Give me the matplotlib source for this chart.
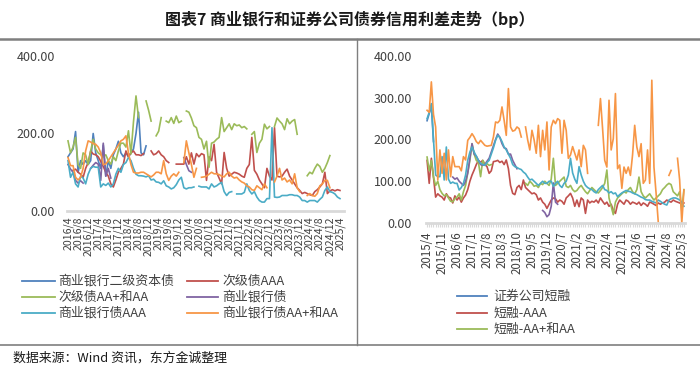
import numpy as np
import pandas as pd
import matplotlib
matplotlib.use("Agg")
import matplotlib.pyplot as plt
from matplotlib.lines import Line2D

plt.rcParams['font.family'] = ['Noto Sans CJK SC', 'DejaVu Sans']
nan = np.nan

# ---------------- data: left panel (monthly, 2016/4 - 2025/4) ----------------
left_months = pd.period_range('2016-04', '2025-04', freq='M')
left_names = ['商业银行二级资本债', '次级债AAA', '次级债AA+和AA', '商业银行债', '商业银行债AAA', '商业银行债AA+和AA']

L_tier2 = [140,150,160,205,100,130,120,130,120,130,200,150,
           130,110,170,90,130,110,145,160,180,150,140,150,
           140,150,160,200,255,150,145,168] + [nan]*77

L_sub_aaa = [nan,nan,105,108,100,95,87,110,125,155,147,145,
             140,128,115,100,90,70,62,80,100,110,121,155,
             140,150,155,145,145,143,148,nan,nan,155,145,148,
             155,145,140,130,125,nan,nan,121,121,121,121,140,
             121,150,121,148,140,148,145,79,140,130,172,100,
             85,70,151,110,90,95,100,98,95,90,87,110,
             120,190,105,95,80,70,60,110,90,80,215,90,
             88,90,100,108,90,80,70,60,53,45,48,45,
             42,40,50,55,62,70,100,45,52,55,52,55,53]

L_sub_aa = [181,150,165,190,120,110,150,145,120,155,185,160,
            150,145,140,145,130,121,140,130,155,175,175,165,
            207,147,230,297,241,nan,nan,284,260,232,nan,194,
            206,241,nan,232,228,241,226,245,228,232,nan,258,
            255,240,220,215,190,185,160,180,113,175,178,185,
            190,241,205,215,225,210,225,220,222,215,218,212,
            nan,198,205,151,175,185,224,212,218,nan,218,240,
            232,225,210,238,225,232,236,198,nan,nan,nan,91,
            100,96,110,121,115,100,110,125,143,nan,nan,nan,nan]

L_bank = ([120,108,100,79,72,78,72,nan,nan,110,118,125,
           121,79,175,90,110,85] + [nan]*28 + [138,120,104,100] + [nan]*59)

L_bank_aaa = [130,87,100,70,62,90,85,70,95,110,115,113,
              113,62,70,66,72,62,70,95,110,100,120,125,
              138,130,110,95,91,91,90,88,91,80,82,75,
              74,70,78,65,62,57,60,68,80,87,60,57,
              60,60,62,nan,64,62,62,62,57,70,62,65,
              70,74,50,40,48,50,nan,44,44,44,48,70,
              53,44,50,36,27,23,23,32,32,215,36,35,
              36,40,40,40,42,42,40,40,36,27,27,23,
              27,27,27,23,30,36,53,62,50,48,44,36,32]

L_bank_aa = [138,117,117,87,80,87,110,155,181,178,174,172,
             165,150,120,121,130,140,150,160,170,181,185,194,
             150,120,100,98,98,100,100,96,92,88,93,100,
             100,96,130,96,79,90,96,90,100,nan,125,181,
             150,120,87,110,nan,87,88,90,95,100,96,96,
             94,90,88,96,100,90,85,87,80,75,72,65,
             62,55,53,65,60,55,70,60,nan,nan,75,90,
             110,80,85,75,80,70,96,60,50,nan,nan,40,
             45,40,38,45,65,70,79,79,60,nan,nan,nan,nan]

# ---------------- data: right panel (monthly, 2015/4 - 2025/4) ----------------
right_months = pd.period_range('2015-04', '2025-04', freq='M')
right_names = ['证券公司短融', '短融-AAA', '短融-AA+和AA']

R_sec = [245,262,282,195] + [nan]*117

R_aaa = [150,95,155,110,62,70,65,62,55,70,62,60,
         48,65,55,62,50,60,67,80,100,115,127,140,
         150,145,150,140,135,119,125,147,148,150,145,148,
         140,151,130,90,71,68,85,90,80,103,85,80,
         75,70,72,68,55,60,50,45,35,45,55,60,
         58,50,55,52,45,60,65,71,60,40,55,39,
         60,55,23,55,48,52,50,55,48,60,52,45,
         50,40,45,30,23,45,55,50,45,55,52,45,
         50,48,45,50,42,48,45,40,50,48,45,42,
         48,45,48,50,55,52,50,55,52,50,48,45,48]

R_aa = ([158,125,150,110,90,100,80,71,65,68,60,52,
         51,58,62,70,55,75,90,120,150,190,165,150,
         145,111,150,140,142,138,140] + [nan]*15 +
        [95,90,100,95,88,90,85,95,92,100,95,90,105,155,90,95,100,105,110,
         88,85,90,80,75,78,85,90,82,75,70,78,85,80,75,72,78,85,95,127,
         60,40,20,50,60,65,70,75,72,80,85,75,70,80,110,75,65,60,65,70,
         62,55,60,65,70,80,85,91,95,92,75,70,65,75,30,80])

R_s4 = ([nan]*12 +
        [110,105,108,100,95,90,100,120,155,190,165,160,
         150,140,138,140,148,155,170,185,200,213,205,190,
         180,178,165,165,150,140,130] + [nan]*11 +
        [30,25,15,20,40,96,50,45] + [nan]*59)

R_s5 = [250,265,286,200,115,111,111,159,103,182,105,95,
        98,95,95,79,85,95,115,150,170,182,170,160,
        150,143,140,138,145,150,165,180,198,210,205,195,
        182,175,165,155,140,135,133,130,128,122,118,110,
        103,105,100,95,90,95,100,95,95,100,100,88,
        95,100,90,85,95,100,115,155,120,105,95,135,
        115,100,90,85,82,80,75,72,80,85,90,80,
        78,72,75,70,72,63,68,72,75,78,76,75,
        72,70,68,65,62,60,56,55,55,52,50,48,
        55,52,48,45,43,55,58,60,60,58,55,50,40]

R_s6 = [270,265,338,260,230,103,175,119,167,103,175,111,
        159,135,135,135,125,159,151,198,205,214,206,195,
        190,198,192,186,184,185,186,206,242,240,246,278,
        246,210,322,230,220,222,230,226,206,nan,230,199,
        175,222,199,167,234,159,222,175,242,127,230,246,
        238,250,246,167,246,222,155,163,183,167,151,175,
        135,186,175,119,nan,nan,nan,nan,234,298,226,150,
        134,294,175,202,310,130,139,83,134,119,134,114,
        163,234,182,159,190,95,103,175,95,342,134,71,
        3,nan,nan,nan,nan,114,126,nan,nan,155,103,0,79]

left_yticks = [0, 200, 400]
right_yticks = [0, 100, 200, 300, 400]

# ---------------- styling ----------------
C = {'blue': '#4F81BD', 'red': '#C0504D', 'green': '#9BBB59',
     'purple': '#8064A2', 'cyan': '#4BACC6', 'orange': '#F79646'}
TXT = '#404040'
AXC = '#D9D9D9'
W, H = 700, 370
fig = plt.figure(figsize=(7, 3.7), dpi=100)
def fx(x): return x / W
def fy(y): return 1 - y / H

# title and frame lines
fig.text(fx(350), fy(19), '图表7 商业银行和证券公司债券信用利差走势（bp）', ha='center', va='center',
         fontsize=11.5, fontweight='bold', color='#1a1a1a')
fig.add_artist(Line2D([0, 1], [fy(38.5), fy(38.5)], color='#7f7f7f', lw=1.8))
fig.add_artist(Line2D([fx(357), fx(357)], [fy(38.5), fy(345)], color='#7f7f7f', lw=1.0))
fig.add_artist(Line2D([0, 1], [fy(345), fy(345)], color='#7f7f7f', lw=1.2))
fig.text(fx(13), fy(358), '数据来源：Wind 资讯，东方金诚整理', ha='left', va='center', fontsize=9.3, color='#1a1a1a')

def style_axes(ax, yt, pad):
    for s in ['top', 'right', 'left']:
        ax.spines[s].set_visible(False)
    ax.spines['bottom'].set_color(AXC)
    ax.spines['bottom'].set_linewidth(2)
    ax.set_ylim(0, 400)
    ax.set_yticks(yt)
    ax.set_yticklabels([f'{v:.2f}' for v in yt])
    ax.tick_params(axis='y', length=0, pad=pad, labelsize=9, labelcolor=TXT)
    ax.patch.set_alpha(0)

# ---------------- left panel ----------------
ax1 = fig.add_axes([fx(67), fy(211), fx(344) - fx(67), fy(56) - fy(211)])
xl = np.arange(len(left_months))
left_series = [L_tier2, L_sub_aaa, L_sub_aa, L_bank, L_bank_aaa, L_bank_aa]
left_colors = [C['blue'], C['red'], C['green'], C['purple'], C['cyan'], C['orange']]
for ser, col in zip(left_series, left_colors):
    ax1.plot(xl, np.array(ser, dtype=float), color=col, lw=1.2, solid_joinstyle='round')
style_axes(ax1, left_yticks, 8.5)
ax1.set_xlim(-0.4, 109.6)
lt = xl[::4]
ax1.set_xticks(lt)
ax1.set_xticklabels([f'{p.year}/{p.month}' for p in left_months[::4]], rotation=90)
ax1.tick_params(axis='x', length=0, pad=4, labelsize=7.6, labelcolor=TXT)

# left legend (manual layout, 2 columns)
rows = [281, 297, 313]
cols = [(22, 55, 58), (187, 218, 222)]
for k, (name, col) in enumerate(zip(left_names, left_colors)):
    r, c = divmod(k, 2)
    x0, x1, xt = cols[c]
    fig.add_artist(Line2D([fx(x0), fx(x1)], [fy(rows[r]), fy(rows[r])], color=col, lw=1.3))
    fig.text(fx(xt), fy(rows[r]), name, ha='left', va='center', fontsize=9.3, color=TXT)

# ---------------- right panel ----------------
ax2 = fig.add_axes([fx(426), fy(223), fx(685) - fx(426), fy(56) - fy(223)])
xr = np.arange(len(right_months))
right_series = [R_sec, R_aaa, R_aa, R_s4, R_s5, R_s6]
right_colors = [C['blue'], C['red'], C['green'], C['purple'], C['cyan'], C['orange']]
for ser, col in zip(right_series, right_colors):
    ax2.plot(xr, np.array(ser, dtype=float), color=col, lw=1.2, solid_joinstyle='round')
style_axes(ax2, right_yticks, 10)
ax2.set_xlim(-0.5, 120.5)
rt = xr[:120:7]
ax2.set_xticks(rt)
ax2.set_xticklabels([f'{p.year}/{p.month}' for p in right_months[:120:7]], rotation=90)
ax2.set_xticks(xr, minor=True)
ax2.tick_params(axis='x', which='both', length=3, width=0.8, color=AXC, direction='out',
                pad=3, labelsize=8.3, labelcolor=TXT)

rrows = [296, 313, 329]
for k, (name, col) in enumerate(zip(right_names, right_colors[:3])):
    fig.add_artist(Line2D([fx(457), fx(487)], [fy(rrows[k]), fy(rrows[k])], color=col, lw=1.3))
    fig.text(fx(493), fy(rrows[k]), name, ha='left', va='center', fontsize=9.3, color=TXT)

fig.savefig('out.png', dpi=100)
